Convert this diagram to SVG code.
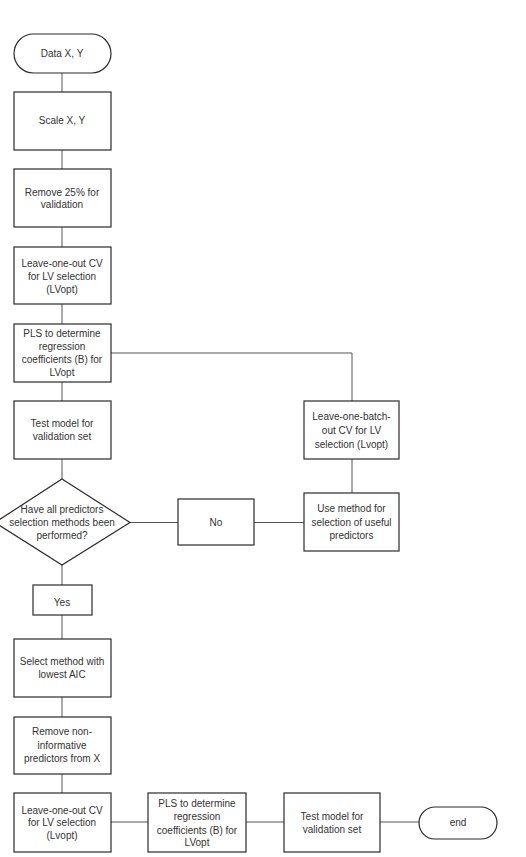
<svg xmlns="http://www.w3.org/2000/svg" width="526" height="857" viewBox="0 0 526 857">
  <style>
    .box { fill: #ffffff; stroke: #2a2a2a; stroke-width: 1.2; }
    .link { fill: none; stroke: #555555; stroke-width: 1; }
    text { font-family: "Liberation Sans", Arial, sans-serif; font-size: 10px; fill: #333333; text-anchor: middle; }
  </style>
  <rect width="526" height="857" fill="#ffffff"/>

  <!-- connectors -->
  <g id="connectors">
    <path class="link" d="M62 73V92 M62 150V169 M62 227V247 M62 304V324 M62 382V401 M62 459V479 M62 565V585 M62 615V639 M62 697V717 M62 774V793"/>
    <path class="link" d="M111 353H352V401 M352 459V493"/>
    <path class="link" d="M130 522.5H178 M254 522.5H304"/>
    <path class="link" d="M111 822H148 M246 822H284 M380 822H419"/>
  </g>

  <g id="start">
    <rect class="box" x="14" y="34" width="97" height="39" rx="19.5"/>
    <text x="62" y="57">Data X, Y</text>
  </g>
  <g id="scale">
    <rect class="box" x="14" y="92" width="97" height="58"/>
    <text x="62" y="124">Scale X, Y</text>
  </g>
  <g id="split">
    <rect class="box" x="14" y="169" width="97" height="58"/>
    <text x="62" y="196">Remove 25% for</text>
    <text x="62" y="208">validation</text>
  </g>
  <g id="loo-cv">
    <rect class="box" x="14" y="247" width="97" height="57"/>
    <text x="62" y="266.5">Leave-one-out CV</text>
    <text x="62" y="279.5">for LV selection</text>
    <text x="62" y="292.5">(LVopt)</text>
  </g>
  <g id="pls">
    <rect class="box" x="14" y="324" width="97" height="58"/>
    <text x="62" y="337">PLS to determine</text>
    <text x="62" y="350">regression</text>
    <text x="62" y="363">coefficients (B) for</text>
    <text x="62" y="376">LVopt</text>
  </g>
  <g id="test">
    <rect class="box" x="14" y="401" width="97" height="58"/>
    <text x="62" y="427">Test model for</text>
    <text x="62" y="440">validation set</text>
  </g>
  <g id="decision">
    <polygon class="box" points="62,479 130,522.5 62,565 -5,522.5"/>
    <text x="62" y="513">Have all predictors</text>
    <text x="62" y="526">selection methods been</text>
    <text x="62" y="538.5">performed?</text>
  </g>
  <g id="no">
    <rect class="box" x="178" y="499" width="76" height="46"/>
    <text x="216" y="526">No</text>
  </g>
  <g id="use-method">
    <rect class="box" x="304" y="493" width="95" height="58"/>
    <text x="351.5" y="512">Use method for</text>
    <text x="351.5" y="526">selection of useful</text>
    <text x="351.5" y="539">predictors</text>
  </g>
  <g id="lobo-cv">
    <rect class="box" x="304" y="401" width="95" height="58"/>
    <text x="351.5" y="420">Leave-one-batch-</text>
    <text x="351.5" y="434">out CV for LV</text>
    <text x="351.5" y="447.5">selection (Lvopt)</text>
  </g>
  <g id="yes">
    <rect class="box" x="33" y="585" width="59" height="30"/>
    <text x="62" y="606">Yes</text>
  </g>
  <g id="select-aic">
    <rect class="box" x="14" y="639" width="97" height="58"/>
    <text x="62" y="665">Select method with</text>
    <text x="62" y="678">lowest AIC</text>
  </g>
  <g id="remove-noninf">
    <rect class="box" x="14" y="717" width="97" height="57"/>
    <text x="62" y="735">Remove non-</text>
    <text x="62" y="748.5">informative</text>
    <text x="62" y="762">predictors from X</text>
  </g>
  <g id="loo-cv-final">
    <rect class="box" x="14" y="793" width="97" height="59"/>
    <text x="62" y="813.5">Leave-one-out CV</text>
    <text x="62" y="826">for LV selection</text>
    <text x="62" y="838.5">(Lvopt)</text>
  </g>
  <g id="pls-final">
    <rect class="box" x="148" y="793" width="98" height="59"/>
    <text x="197" y="807">PLS to determine</text>
    <text x="197" y="819.5">regression</text>
    <text x="197" y="833.5">coefficients (B) for</text>
    <text x="197" y="846">LVopt</text>
  </g>
  <g id="test-final">
    <rect class="box" x="284" y="793" width="96" height="59"/>
    <text x="332" y="819.5">Test model for</text>
    <text x="332" y="832.5">validation set</text>
  </g>
  <g id="end">
    <rect class="box" x="419" y="807" width="78" height="32" rx="16"/>
    <text x="458" y="825.5">end</text>
  </g>
</svg>
